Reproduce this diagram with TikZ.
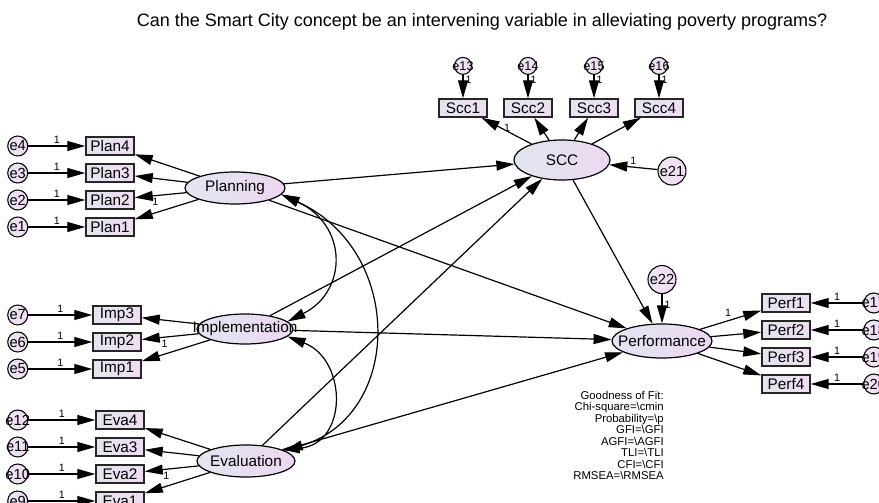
\documentclass[tikz,border=0pt]{standalone}
\usepackage{fontspec}
\setmainfont{Liberation Sans}
\usetikzlibrary{arrows.meta, shapes.geometric, positioning}

\definecolor{boxL}{HTML}{E2E6EE}
\definecolor{boxR}{HTML}{F0DDF2}
\definecolor{latL}{HTML}{E1E6EF}
\definecolor{latR}{HTML}{EDD7F2}
\definecolor{errL}{HTML}{EEE4F3}
\definecolor{errR}{HTML}{F0DCF2}

\newcommand{\zwtext}[1]{\makebox[0pt]{#1}}

\tikzset{
  obs/.style={draw=black!85, line width=1.1pt, rectangle, minimum width=36pt, minimum height=13.5pt, inner sep=0pt, left color=boxL, right color=boxR, font=\fontsize{11.5}{12}\selectfont},
  lat/.style={draw, line width=0.9pt, ellipse, inner sep=0pt, left color=latL, right color=latR, font=\fontsize{11.5}{12}\selectfont},
  err/.style={draw, line width=0.8pt, circle, inner sep=0pt, minimum size=15pt, left color=errL, right color=errR, font=\fontsize{11}{12}\selectfont},
  reg/.style={-{Triangle[length=13.5pt,width=7.5pt]}, line width=0.9pt},
  cov/.style={{Triangle[length=13.5pt,width=7.5pt]}-{Triangle[length=13.5pt,width=7.5pt]}, line width=0.9pt},
  wt/.style={font=\fontsize{8}{9}\selectfont, inner sep=1.5pt},
}

\begin{document}
\begin{tikzpicture}[x=0.75pt, y=-0.75pt]
\useasboundingbox (0,0) rectangle (879,503);
\fill[white] (0,0) rectangle (879,503);
\clip (0,0) rectangle (879,503);

% title
\node[font=\fontsize{13.5}{16}\selectfont] (title) at (482,22) {Can the Smart City concept be an intervening variable in alleviating poverty programs?};

% latent variables
\node[lat, minimum width=75pt, minimum height=24pt] (planning) at (235,188) {\zwtext{Planning}};
\node[lat, minimum width=72pt, minimum height=22.5pt] (implementation) at (245,329) {\zwtext{Implementation}};
\node[lat, minimum width=73.5pt, minimum height=24pt] (evaluation) at (246,461) {\zwtext{Evaluation}};
\node[lat, minimum width=72pt, minimum height=30pt] (scc) at (562,160) {\zwtext{SCC}};
\node[lat, minimum width=75pt, minimum height=25.5pt] (performance) at (662,341) {\zwtext{Performance}};

% Planning indicators
\node[obs] (plan4) at (110,146) {Plan4};
\node[obs] (plan3) at (110,173) {Plan3};
\node[obs] (plan2) at (110,200) {Plan2};
\node[obs] (plan1) at (110,227) {Plan1};
\node[err, left=42.75pt of plan4] (e4) {\zwtext{e4}};
\node[err, left=42.75pt of plan3] (e3) {\zwtext{e3}};
\node[err, left=42.75pt of plan2] (e2) {\zwtext{e2}};
\node[err, left=42.75pt of plan1] (e1) {\zwtext{e1}};

% Implementation indicators
\node[obs] (imp3) at (117,315) {Imp3};
\node[obs] (imp2) at (117,342) {Imp2};
\node[obs] (imp1) at (117,369) {Imp1};
\node[err, left=48pt of imp3] (e7) {\zwtext{e7}};
\node[err, left=48pt of imp2] (e6) {\zwtext{e6}};
\node[err, left=48pt of imp1] (e5) {\zwtext{e5}};

% Evaluation indicators
\node[obs] (eva4) at (120,420) {Eva4};
\node[obs] (eva3) at (120,447) {Eva3};
\node[obs] (eva2) at (120,474) {Eva2};
\node[obs] (eva1) at (120,501) {Eva1};
\node[err, left=50.25pt of eva4] (e12) {\zwtext{e12}};
\node[err, left=50.25pt of eva3] (e11) {\zwtext{e11}};
\node[err, left=50.25pt of eva2] (e10) {\zwtext{e10}};
\node[err, left=50.25pt of eva1] (e9) {\zwtext{e9}};

% SCC indicators
\node[obs] (scc1) at (463,108) {Scc1};
\node[obs] (scc2) at (528,108) {Scc2};
\node[obs] (scc3) at (594,108) {Scc3};
\node[obs] (scc4) at (659,108) {Scc4};
\node[err, minimum size=12.75pt, font=\fontsize{9.5}{10}\selectfont, above=17.5pt of scc1] (e13) {\zwtext{e13}};
\node[err, minimum size=12.75pt, font=\fontsize{9.5}{10}\selectfont, above=17.5pt of scc2] (e14) {\zwtext{e14}};
\node[err, minimum size=12.75pt, font=\fontsize{9.5}{10}\selectfont, above=17.5pt of scc3] (e15) {\zwtext{e15}};
\node[err, minimum size=12.75pt, font=\fontsize{9.5}{10}\selectfont, above=17.5pt of scc4] (e16) {\zwtext{e16}};
\node[err, minimum size=21pt] (e21) at (672,171) {\zwtext{e21}};

% Performance indicators
\node[obs] (perf1) at (786,303) {Perf1};
\node[obs] (perf2) at (786,330) {Perf2};
\node[obs] (perf3) at (786,357) {Perf3};
\node[obs] (perf4) at (786,384) {Perf4};
\node[err, right=39.4pt of perf1] (e17) {\zwtext{e17}};
\node[err, right=39.4pt of perf2] (e18) {\zwtext{e18}};
\node[err, right=39.4pt of perf3] (e19) {\zwtext{e19}};
\node[err, right=39.4pt of perf4] (e20) {\zwtext{e20}};
\node[err, minimum size=21pt, above=22pt of performance] (e22) {\zwtext{e22}};

% measurement arrows
\draw[reg] (e4) -- node[wt, above] {1} (plan4);
\draw[reg] (e3) -- node[wt, above] {1} (plan3);
\draw[reg] (e2) -- node[wt, above] {1} (plan2);
\draw[reg] (e1) -- node[wt, above] {1} (plan1);
\draw[reg] (planning) -- (plan4);
\draw[reg] (planning) -- (plan3);
\draw[reg] (planning) -- node[wt, pos=0.6, below] {1} (plan2);
\draw[reg] (planning) -- (plan1);

\draw[reg] (e7) -- node[wt, above] {1} (imp3);
\draw[reg] (e6) -- node[wt, above] {1} (imp2);
\draw[reg] (e5) -- node[wt, above] {1} (imp1);
\draw[reg] (implementation) -- (imp3);
\draw[reg] (implementation) -- node[wt, pos=0.6, below] {1} (imp2);
\draw[reg] (implementation) -- (imp1);

\draw[reg] (e12) -- node[wt, above] {1} (eva4);
\draw[reg] (e11) -- node[wt, above] {1} (eva3);
\draw[reg] (e10) -- node[wt, above] {1} (eva2);
\draw[reg] (e9) -- node[wt, above] {1} (eva1);
\draw[reg] (evaluation) -- (eva4);
\draw[reg] (evaluation) -- (eva3);
\draw[reg] (evaluation) -- node[wt, pos=0.6, below] {1} (eva2);
\draw[reg] (evaluation) -- (eva1);

\draw[reg] (e13) -- node[wt, pos=0.2, right] {1} (scc1);
\draw[reg] (e14) -- node[wt, pos=0.2, right] {1} (scc2);
\draw[reg] (e15) -- node[wt, pos=0.2, right] {1} (scc3);
\draw[reg] (e16) -- node[wt, pos=0.2, right] {1} (scc4);
\draw[reg] (scc) -- node[wt, pos=0.6, right] {1} (scc1);
\draw[reg] (scc) -- (scc2);
\draw[reg] (scc) -- (scc3);
\draw[reg] (scc) -- (scc4);
\draw[reg] (e21) -- node[wt, above] {1} (scc);

\draw[reg] (e17) -- node[wt, above] {1} (perf1);
\draw[reg] (e18) -- node[wt, above] {1} (perf2);
\draw[reg] (e19) -- node[wt, above] {1} (perf3);
\draw[reg] (e20) -- node[wt, above] {1} (perf4);
\draw[reg] (performance) -- node[wt, pos=0.55, above left] {1} (perf1);
\draw[reg] (performance) -- (perf2);
\draw[reg] (performance) -- (perf3);
\draw[reg] (performance) -- (perf4);
\draw[reg] (e22) -- node[wt, pos=0.35, right] {1} (performance);

% structural paths
\draw[reg] (planning) -- (scc);
\draw[reg] (implementation) -- (scc);
\draw[reg] (evaluation) -- (scc);
\draw[reg] (planning) -- (performance);
\draw[reg] (implementation) -- (performance);
\draw[reg] (evaluation) -- (performance);
\draw[reg] (scc) -- (performance);

% covariances
\draw[cov] (planning.-8) .. controls (348,225) and (348,291) .. (implementation.10);
\draw[cov] (implementation.-10) .. controls (348,360) and (348,445) .. (evaluation.18);
\draw[cov] (planning.-8) .. controls (404,250) and (404,415) .. (evaluation.15);

% fit indices
\node[anchor=north east, align=right, inner sep=0pt, font=\fontsize{8.5}{8.6}\selectfont] (gof) at (664,391) {Goodness of Fit:\\Chi-square=\textbackslash cmin\\Probability=\textbackslash p\\GFI=\textbackslash GFI\\AGFI=\textbackslash AGFI\\TLI=\textbackslash TLI\\CFI=\textbackslash CFI\\RMSEA=\textbackslash RMSEA};
\end{tikzpicture}
\end{document}
